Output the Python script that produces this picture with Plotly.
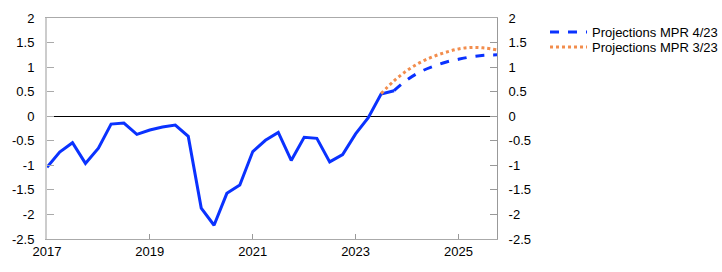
import pandas as pd
import plotly.graph_objects as go

# ---- data ----
hist_quarters = ["2017Q1", "2017Q2", "2017Q3", "2017Q4", "2018Q1", "2018Q2", "2018Q3", "2018Q4",
                 "2019Q1", "2019Q2", "2019Q3", "2019Q4", "2020Q1", "2020Q2", "2020Q3", "2020Q4",
                 "2021Q1", "2021Q2", "2021Q3", "2021Q4", "2022Q1", "2022Q2", "2022Q3", "2022Q4",
                 "2023Q1", "2023Q2", "2023Q3", "2023Q4"]
hist_values = [-1.04, -0.73, -0.54, -0.96, -0.65, -0.16, -0.14, -0.37,
               -0.28, -0.22, -0.18, -0.41, -1.87, -2.22, -1.57, -1.40,
               -0.72, -0.49, -0.33, -0.90, -0.43, -0.45, -0.93, -0.78,
               -0.36, -0.03, 0.45, 0.52]

mpr423_quarters = ["2023Q4", "2024Q1", "2024Q2", "2024Q3", "2024Q4", "2025Q1", "2025Q2", "2025Q3", "2025Q4"]
mpr423_values = [0.52, 0.74, 0.90, 1.01, 1.10, 1.16, 1.21, 1.24, 1.25]

mpr323_quarters = ["2023Q3", "2023Q4", "2024Q1", "2024Q2", "2024Q3", "2024Q4", "2025Q1", "2025Q2", "2025Q3", "2025Q4"]
mpr323_values = [0.46, 0.72, 0.93, 1.09, 1.21, 1.30, 1.37, 1.40, 1.39, 1.35]

x_tick_labels = ["2017", "2019", "2021", "2023", "2025"]
y_tick_values = [-2.5, -2, -1.5, -1, -0.5, 0, 0.5, 1, 1.5, 2]
y_tick_labels = ["-2.5", "-2", "-1.5", "-1", "-0.5", "0", "0.5", "1", "1.5", "2"]


def q_to_date(qs):
    return pd.PeriodIndex(qs, freq="Q").to_timestamp()


BLUE = "#0A32FF"
ORANGE = "#F28D4D"
FONT = "Liberation Sans, Arial, sans-serif"

fig = go.Figure()
fig.add_trace(go.Scatter(x=q_to_date(hist_quarters), y=hist_values, mode="lines",
                         line=dict(color=BLUE, width=3), showlegend=False))
# MPR 3/23 is drawn against the right-hand axis (same scale as the left one)
fig.add_trace(go.Scatter(x=q_to_date(mpr323_quarters), y=mpr323_values, mode="lines",
                         line=dict(color=ORANGE, width=3, dash="dot", shape="spline"),
                         name="Projections MPR 3/23", legend="legend2", yaxis="y2"))
fig.add_trace(go.Scatter(x=q_to_date(mpr423_quarters), y=mpr423_values, mode="lines",
                         line=dict(color=BLUE, width=3, dash="dash", shape="spline"),
                         name="Projections MPR 4/23", legend="legend"))

xticks = [pd.Timestamp(f"{y}-01-01") for y in x_tick_labels]

fig.update_layout(
    width=722, height=272,
    margin=dict(l=47, r=225, t=18, b=33, autoexpand=False),
    paper_bgcolor="white", plot_bgcolor="white",
    font=dict(family=FONT, size=13, color="black"),
    xaxis=dict(type="date", range=[pd.Timestamp("2017-01-01"), pd.Timestamp("2025-10-01")],
               tickvals=xticks, ticktext=x_tick_labels,
               ticks="inside", ticklen=5, tickcolor="#999999", tickwidth=1,
               showline=True, linecolor="#aaaaaa", linewidth=1, mirror=True,
               showgrid=False, zeroline=False),
    yaxis=dict(range=[-2.5, 2], tickvals=y_tick_values, ticktext=y_tick_labels,
               ticks="inside", ticklen=7, tickcolor="#aaaaaa", tickwidth=1,
               showline=True, linecolor="#cccccc", linewidth=2,
               showgrid=False, zeroline=True, zerolinecolor="black", zerolinewidth=1,
               ticklabelstandoff=8),
    yaxis2=dict(range=[-2.5, 2], tickvals=y_tick_values, ticktext=y_tick_labels,
                overlaying="y", side="right",
                ticks="inside", ticklen=7, tickcolor="#999999", tickwidth=1,
                showline=True, linecolor="#999999", linewidth=1,
                showgrid=False, zeroline=False, ticklabelstandoff=8),
    legend=dict(x=1.1067, xanchor="left", y=0.9367, yanchor="middle",
                bgcolor="rgba(0,0,0,0)", borderwidth=0, itemwidth=37,
                font=dict(family=FONT, size=13, color="black")),
    legend2=dict(x=1.1067, xanchor="left", y=0.8688, yanchor="middle",
                 bgcolor="rgba(0,0,0,0)", borderwidth=0, itemwidth=37,
                 font=dict(family=FONT, size=13, color="black")),
)

fig.write_html("out.html")
